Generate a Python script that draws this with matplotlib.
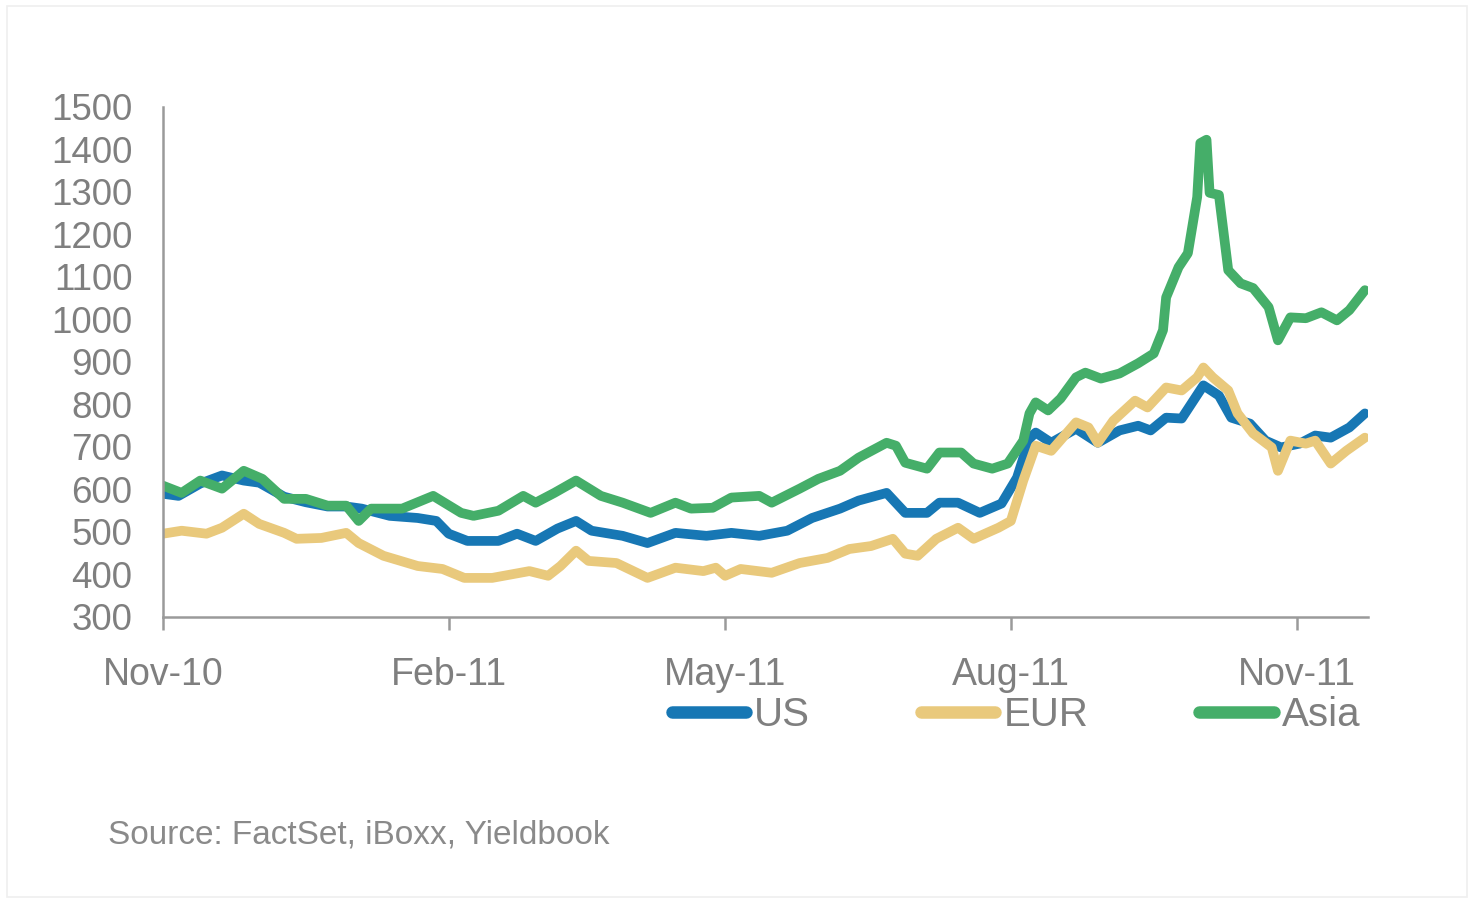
import matplotlib
matplotlib.use("Agg")
import matplotlib.pyplot as plt
import matplotlib.dates as mdates
import pandas as pd
from matplotlib.patches import Rectangle

plt.rcParams['font.family'] = ['Liberation Sans', 'DejaVu Sans']

# ---------------- data ----------------
us_dates = ["2010-11-01","2010-11-06","2010-11-13","2010-11-20","2010-11-27","2010-12-02","2010-12-10",
            "2010-12-17","2010-12-24","2010-12-30","2011-01-04","2011-01-13","2011-01-22","2011-01-28",
            "2011-02-01","2011-02-07","2011-02-17","2011-02-23","2011-03-01","2011-03-08","2011-03-14",
            "2011-03-19","2011-03-29","2011-04-06","2011-04-15","2011-04-25","2011-05-03","2011-05-12",
            "2011-05-21","2011-05-29","2011-06-07","2011-06-13","2011-06-22","2011-06-28","2011-07-05",
            "2011-07-09","2011-07-15","2011-07-22","2011-07-29","2011-08-03","2011-08-07","2011-08-09",
            "2011-08-14","2011-08-22","2011-08-29","2011-09-05","2011-09-11","2011-09-15","2011-09-20",
            "2011-09-25","2011-10-02","2011-10-07","2011-10-11","2011-10-17","2011-10-22","2011-10-27",
            "2011-11-02","2011-11-07","2011-11-12","2011-11-18","2011-11-23"]
us_values = [590, 585, 614, 633, 621, 616, 583,
             570, 560, 560, 555, 538, 533, 526,
             496, 479, 479, 496, 479, 508, 526,
             503, 491, 474, 498, 491, 498, 491,
             503, 533, 555, 574, 592, 545, 545,
             569, 569, 545, 567, 628, 720, 734,
             710, 743, 710, 739, 750, 739, 769,
             767, 845, 821, 769, 755, 715, 699,
             708, 727, 722, 746, 779]

eur_dates = ["2010-11-01","2010-11-07","2010-11-15","2010-11-20","2010-11-27","2010-12-02","2010-12-10",
             "2010-12-14","2010-12-22","2010-12-30","2011-01-03","2011-01-11","2011-01-22","2011-01-30",
             "2011-02-06","2011-02-15","2011-02-27","2011-03-05","2011-03-09","2011-03-14","2011-03-18",
             "2011-03-27","2011-04-06","2011-04-15","2011-04-24","2011-04-28","2011-05-01","2011-05-06",
             "2011-05-16","2011-05-25","2011-06-03","2011-06-10","2011-06-17","2011-06-24","2011-06-28",
             "2011-07-02","2011-07-08","2011-07-15","2011-07-20","2011-07-28","2011-08-01","2011-08-05",
             "2011-08-09","2011-08-14","2011-08-22","2011-08-26","2011-08-29","2011-09-03","2011-09-10",
             "2011-09-14","2011-09-20","2011-09-25","2011-09-30","2011-10-02","2011-10-05","2011-10-10",
             "2011-10-13","2011-10-18","2011-10-24","2011-10-26","2011-10-30","2011-11-04","2011-11-07",
             "2011-11-12","2011-11-17","2011-11-23"]
eur_values = [496, 503, 496, 510, 543, 519, 498,
              484, 486, 498, 474, 444, 420, 413,
              392, 392, 408, 397, 420, 456, 432,
              427, 392, 416, 408, 416, 397, 413,
              404, 427, 439, 460, 467, 484, 449,
              444, 484, 510, 484, 510, 526, 621,
              703, 691, 758, 746, 710, 762, 809,
              793, 840, 833, 864, 887, 864, 833,
              779, 732, 699, 644, 715, 708, 715,
              661, 691, 722]

asia_dates = ["2010-11-01","2010-11-07","2010-11-13","2010-11-20","2010-11-27","2010-12-03","2010-12-10",
              "2010-12-17","2010-12-24","2010-12-30","2011-01-03","2011-01-07","2011-01-17","2011-01-27",
              "2011-02-05","2011-02-09","2011-02-17","2011-02-25","2011-03-01","2011-03-07","2011-03-14",
              "2011-03-22","2011-03-29","2011-04-07","2011-04-15","2011-04-20","2011-04-27","2011-05-03",
              "2011-05-12","2011-05-16","2011-05-25","2011-05-31","2011-06-07","2011-06-13","2011-06-22",
              "2011-06-25","2011-06-28","2011-07-05","2011-07-09","2011-07-16","2011-07-20","2011-07-26",
              "2011-07-31","2011-08-05","2011-08-07","2011-08-09","2011-08-13","2011-08-17","2011-08-22",
              "2011-08-25","2011-08-30","2011-09-05","2011-09-11","2011-09-16","2011-09-19","2011-09-20",
              "2011-09-24","2011-09-27","2011-09-30","2011-10-01","2011-10-03","2011-10-04","2011-10-07",
              "2011-10-10","2011-10-14","2011-10-18","2011-10-23","2011-10-26","2011-10-30","2011-11-04",
              "2011-11-09","2011-11-14","2011-11-18","2011-11-23"]
asia_values = [609, 592, 621, 602, 644, 625, 578,
               578, 562, 562, 526, 555, 555, 585,
               545, 538, 550, 585, 569, 592, 621,
               585, 569, 545, 569, 555, 557, 581,
               585, 569, 602, 625, 644, 675, 710,
               703, 663, 649, 687, 687, 661, 649,
               661, 715, 779, 805, 786, 814, 864,
               875, 861, 873, 897, 920, 975, 1052,
               1123, 1156, 1288, 1415, 1423, 1298, 1293,
               1116, 1085, 1074, 1029, 951, 1005, 1003,
               1017, 998, 1022, 1069]

series_names = ["US", "EUR", "Asia"]
series_colors = ["#1777B4", "#E9C97C", "#45AE69"]
x_ticks = ["2010-11-01", "2011-02-01", "2011-05-01", "2011-08-01", "2011-11-01"]
y_ticks = [300, 400, 500, 600, 700, 800, 900, 1000, 1100, 1200, 1300, 1400, 1500]
source_text = "Source: FactSet, iBoxx, Yieldbook"

# ---------------- figure ----------------
W, H = 1475, 907
fig = plt.figure(figsize=(W / 100, H / 100), dpi=100)
fig.patch.set_facecolor("white")
fig.add_artist(Rectangle((7 / W, 1 - 897 / H), 1460 / W, 891 / H, transform=fig.transFigure,
                         fill=False, edgecolor="#efefef", linewidth=1.2))

ax = fig.add_axes([163 / W, 1 - 617 / H, (1368 - 163) / W, (617 - 107) / H])

all_dates = [us_dates, eur_dates, asia_dates]
all_vals = [us_values, eur_values, asia_values]
handles = []
for d, v, c, n in zip(all_dates, all_vals, series_colors, series_names):
    h, = ax.plot(pd.to_datetime(d), v, color=c, linewidth=7.0, solid_joinstyle="round",
                 solid_capstyle="round", label=n)
    handles.append(h)

ax.set_xlim(pd.Timestamp("2010-11-01"), pd.Timestamp("2011-11-24"))
ax.set_ylim(300, 1500)
ax.set_xticks(pd.to_datetime(x_ticks))
ax.xaxis.set_major_formatter(mdates.DateFormatter("%b-%y"))
ax.set_yticks(y_ticks)

for s in ["top", "right"]:
    ax.spines[s].set_visible(False)
for s in ["left", "bottom"]:
    ax.spines[s].set_color("#9a9a9a")
    ax.spines[s].set_linewidth(1.8)

ax.tick_params(axis="x", direction="out", length=9, width=1.8, color="#9a9a9a",
               labelsize=27, labelcolor="#7f7f7f", pad=20)
ax.tick_params(axis="y", length=0, labelsize=26.5, labelcolor="#7f7f7f", pad=22)

leg = fig.legend(handles=handles, labels=series_names, loc="center",
                 bbox_to_anchor=(1016 / W, 1 - 715 / H), ncol=3, frameon=False,
                 fontsize=29, handlelength=1.85, handletextpad=0.2, columnspacing=2.75,
                 labelcolor="#7f7f7f")
for lh in leg.get_lines():
    lh.set_linewidth(9)
    lh.set_solid_capstyle("round")

fig.text(108 / W, 1 - 835 / H, source_text, fontsize=24, color="#8a8a8a",
         ha="left", va="center")

fig.savefig("out.png", dpi=100, facecolor="white")
